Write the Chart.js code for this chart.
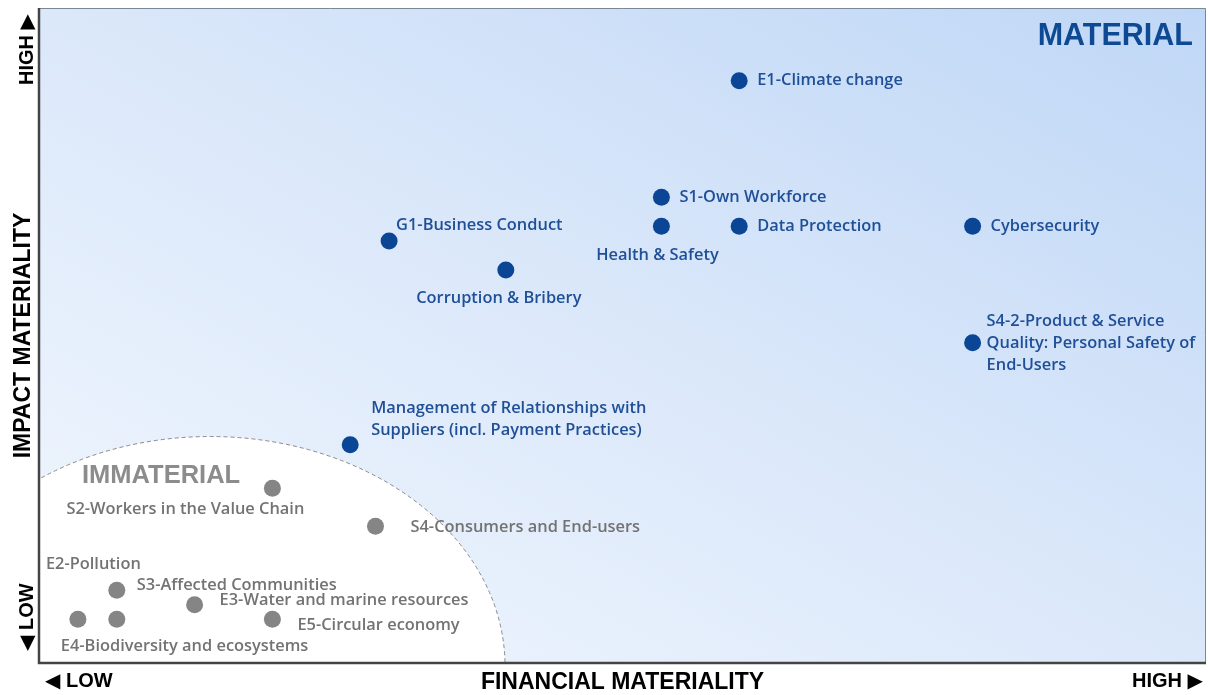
<!DOCTYPE html>
<html><head><meta charset="utf-8">
<script src="https://cdn.jsdelivr.net/npm/chart.js@4.4.1/dist/chart.umd.min.js"></script>
<style>html,body{margin:0;padding:0;background:#fff;overflow:hidden}canvas{display:block}</style>
</head><body>
<canvas id="c" width="1208" height="695"></canvas>
<script>
// ---- data ----
const materialTopics = [
  ['E1-Climate change'],
  ['S1-Own Workforce'],
  ['Health & Safety'],
  ['Data Protection'],
  ['Cybersecurity'],
  ['G1-Business Conduct'],
  ['Corruption & Bribery'],
  ['S4-2-Product & Service', 'Quality: Personal Safety of', 'End-Users'],
  ['Management of Relationships with', 'Suppliers (incl. Payment Practices)']
];
const materialFinancial = [18, 16, 16, 18, 24, 9, 12, 24, 8];
const materialImpact    = [40, 32, 30, 30, 30, 29, 27, 22, 15];

const immaterialTopics = [
  ['S2-Workers in the Value Chain'],
  ['S4-Consumers and End-users'],
  ['S3-Affected Communities'],
  ['E2-Pollution'],
  ['E4-Biodiversity and ecosystems'],
  ['E3-Water and marine resources'],
  ['E5-Circular economy']
];
const immaterialFinancial = [6, 8.65, 2, 1, 2, 4, 6];
const immaterialImpact    = [12, 9.4, 5, 3, 3, 4, 3];

const xTickLabels = ['◀ LOW', 'HIGH ▶'];
const yTickLabels = ['◀ LOW', 'HIGH ▶'];
const xAxisTitle = 'FINANCIAL MATERIALITY';
const yAxisTitle = 'IMPACT MATERIALITY';
const zoneTitles = ['MATERIAL', 'IMMATERIAL'];

// ---- styling / placement (not data) ----
const materialLabelPos = [
  {dx: 18, dy: 0, align: 'left'},
  {dx: 18, dy: 0, align: 'left'},
  {dx: -4, dy: 29, align: 'center'},
  {dx: 18, dy: 0, align: 'left'},
  {dx: 18, dy: 0, align: 'left'},
  {dx: 7, dy: -16, align: 'left'},
  {dx: -7, dy: 28, align: 'center'},
  {dx: 14, dy: -21, align: 'left'},
  {dx: 21, dy: -36, align: 'left'}
];
const immaterialLabelPos = [
  {dx: -87, dy: 21, align: 'center'},
  {dx: 35, dy: 1, align: 'left'},
  {dx: 20, dy: -5, align: 'left'},
  {dx: -32, dy: -55, align: 'left'},
  {dx: -56, dy: 27, align: 'left'},
  {dx: 25, dy: -4, align: 'left'},
  {dx: 25, dy: 6, align: 'left'}
];
const zone = {cx: 4.4, cy: -0.2, rx: 7.58, ry: 15.76};
const BLUE = '#0b4596', BLUE_TXT = '#1f4f97', GREY = '#858585', GREY_TXT = '#737373';
const LABEL_FONT = '600 16.4px "Open Sans", sans-serif';
const AXIS_FONT = 'bold 23px "Liberation Sans", Arial, sans-serif';
const TICK_FONT = 'bold 20px "Liberation Sans", Arial, "DejaVu Sans", sans-serif';

const toPts = (xs, ys) => xs.map((v, i) => ({x: v, y: ys[i]}));

const backgroundPlugin = {
  id: 'bgZone',
  beforeDatasetsDraw(chart) {
    const {ctx, chartArea: a, scales: {x, y}} = chart;
    ctx.save();
    const W = a.width, H = a.height, D = Math.hypot(W, H);
    const mx = (a.left + a.right) / 2, my = (a.top + a.bottom) / 2;
    const L = W * H / D, ux = H / D, uy = -W / D;
    const g = ctx.createLinearGradient(mx - ux * L, my - uy * L, mx + ux * L, my + uy * L);
    g.addColorStop(0, '#f2f7fe');
    g.addColorStop(0.5, '#dbe8fa');
    g.addColorStop(1, '#bfd7f6');
    ctx.fillStyle = g;
    ctx.fillRect(a.left, a.top, a.width, a.height);
    ctx.beginPath(); ctx.rect(a.left, a.top, a.width, a.height); ctx.clip();
    const cx = x.getPixelForValue(zone.cx), cy = y.getPixelForValue(zone.cy);
    const rx = x.getPixelForValue(zone.cx + zone.rx) - cx;
    const ry = cy - y.getPixelForValue(zone.cy + zone.ry);
    ctx.beginPath(); ctx.ellipse(cx, cy, rx, ry, 0, 0, Math.PI * 2);
    ctx.fillStyle = '#ffffff'; ctx.fill();
    ctx.setLineDash([4, 3]); ctx.strokeStyle = '#8a8a8a'; ctx.lineWidth = 1; ctx.stroke();
    ctx.setLineDash([]);
    // zone titles
    ctx.textBaseline = 'middle';
    ctx.font = 'bold 30.5px "Liberation Sans", Arial, sans-serif';
    ctx.fillStyle = '#0e4a94'; ctx.textAlign = 'right';
    ctx.fillText(zoneTitles[0], a.right - 13, a.top + 29);
    ctx.font = 'bold 25.5px "Liberation Sans", Arial, sans-serif';
    ctx.fillStyle = '#8c8c8c'; ctx.textAlign = 'left';
    ctx.fillText(zoneTitles[1], a.left + 43, y.getPixelForValue(0) - 187);
    ctx.restore();
  }
};

const labelPlugin = {
  id: 'pointLabels',
  afterDatasetsDraw(chart) {
    const {ctx} = chart;
    ctx.save();
    ctx.font = LABEL_FONT;
    ctx.textBaseline = 'middle';
    const sets = [
      {topics: materialTopics, pos: materialLabelPos, color: BLUE_TXT},
      {topics: immaterialTopics, pos: immaterialLabelPos, color: GREY_TXT}
    ];
    sets.forEach((s, di) => {
      const meta = chart.getDatasetMeta(di);
      meta.data.forEach((el, i) => {
        const p = s.pos[i];
        ctx.fillStyle = s.color;
        ctx.textAlign = p.align;
        s.topics[i].forEach((line, li) => {
          ctx.fillText(line, el.x + p.dx, el.y + p.dy + li * 22);
        });
      });
    });
    ctx.restore();
  }
};

const framePlugin = {
  id: 'frame',
  afterDraw(chart) {
    const {ctx, chartArea: a} = chart;
    ctx.save();
    ctx.strokeStyle = '#7b8795'; ctx.lineWidth = 1;
    ctx.beginPath();
    ctx.moveTo(a.left, a.top + 0.5); ctx.lineTo(a.right - 0.5, a.top + 0.5); ctx.lineTo(a.right - 0.5, a.bottom);
    ctx.stroke();
    ctx.strokeStyle = '#444444'; ctx.lineWidth = 2.5;
    ctx.beginPath();
    ctx.moveTo(a.left, a.top); ctx.lineTo(a.left, a.bottom); ctx.lineTo(a.right, a.bottom);
    ctx.stroke();
    // axis titles and low/high ticks
    ctx.fillStyle = '#000';
    ctx.textBaseline = 'middle';
    ctx.font = AXIS_FONT; ctx.textAlign = 'center';
    ctx.fillText(xAxisTitle, (a.left + a.right) / 2, a.bottom + 20);
    ctx.save();
    ctx.translate(a.left - 15, (a.top + a.bottom) / 2);
    ctx.rotate(-Math.PI / 2);
    ctx.fillText(yAxisTitle, 0, 0);
    ctx.restore();
    ctx.font = TICK_FONT;
    ctx.textAlign = 'left';
    ctx.fillText(xTickLabels[0], a.left + 6, a.bottom + 18);
    ctx.textAlign = 'right';
    ctx.fillText(xTickLabels[1], a.right - 3, a.bottom + 18);
    ctx.save();
    ctx.translate(a.left - 12, a.bottom);
    ctx.rotate(-Math.PI / 2);
    ctx.textAlign = 'left';
    ctx.fillText(yTickLabels[0], 12, 0);
    ctx.textAlign = 'right';
    ctx.fillText(yTickLabels[1], a.bottom - a.top - 6, 0);
    ctx.restore();
    ctx.restore();
  }
};

new Chart(document.getElementById('c'), {
  type: 'scatter',
  data: {
    datasets: [
      {label: 'Material', data: toPts(materialFinancial, materialImpact),
       backgroundColor: BLUE, borderColor: BLUE, pointRadius: 8.5, pointHoverRadius: 8.5, borderWidth: 0},
      {label: 'Immaterial', data: toPts(immaterialFinancial, immaterialImpact),
       backgroundColor: GREY, borderColor: GREY, pointRadius: 8.5, pointHoverRadius: 8.5, borderWidth: 0}
    ]
  },
  options: {
    responsive: false,
    animation: false,
    devicePixelRatio: 1,
    layout: {autoPadding: false, padding: {left: 39, top: 8, right: 2, bottom: 32}},
    plugins: {legend: {display: false}, tooltip: {enabled: false}},
    scales: {
      x: {type: 'linear', min: 0, max: 30, display: false},
      y: {type: 'linear', min: 0, max: 45, display: false}
    }
  },
  plugins: [backgroundPlugin, labelPlugin, framePlugin]
});
</script>
</body></html>
